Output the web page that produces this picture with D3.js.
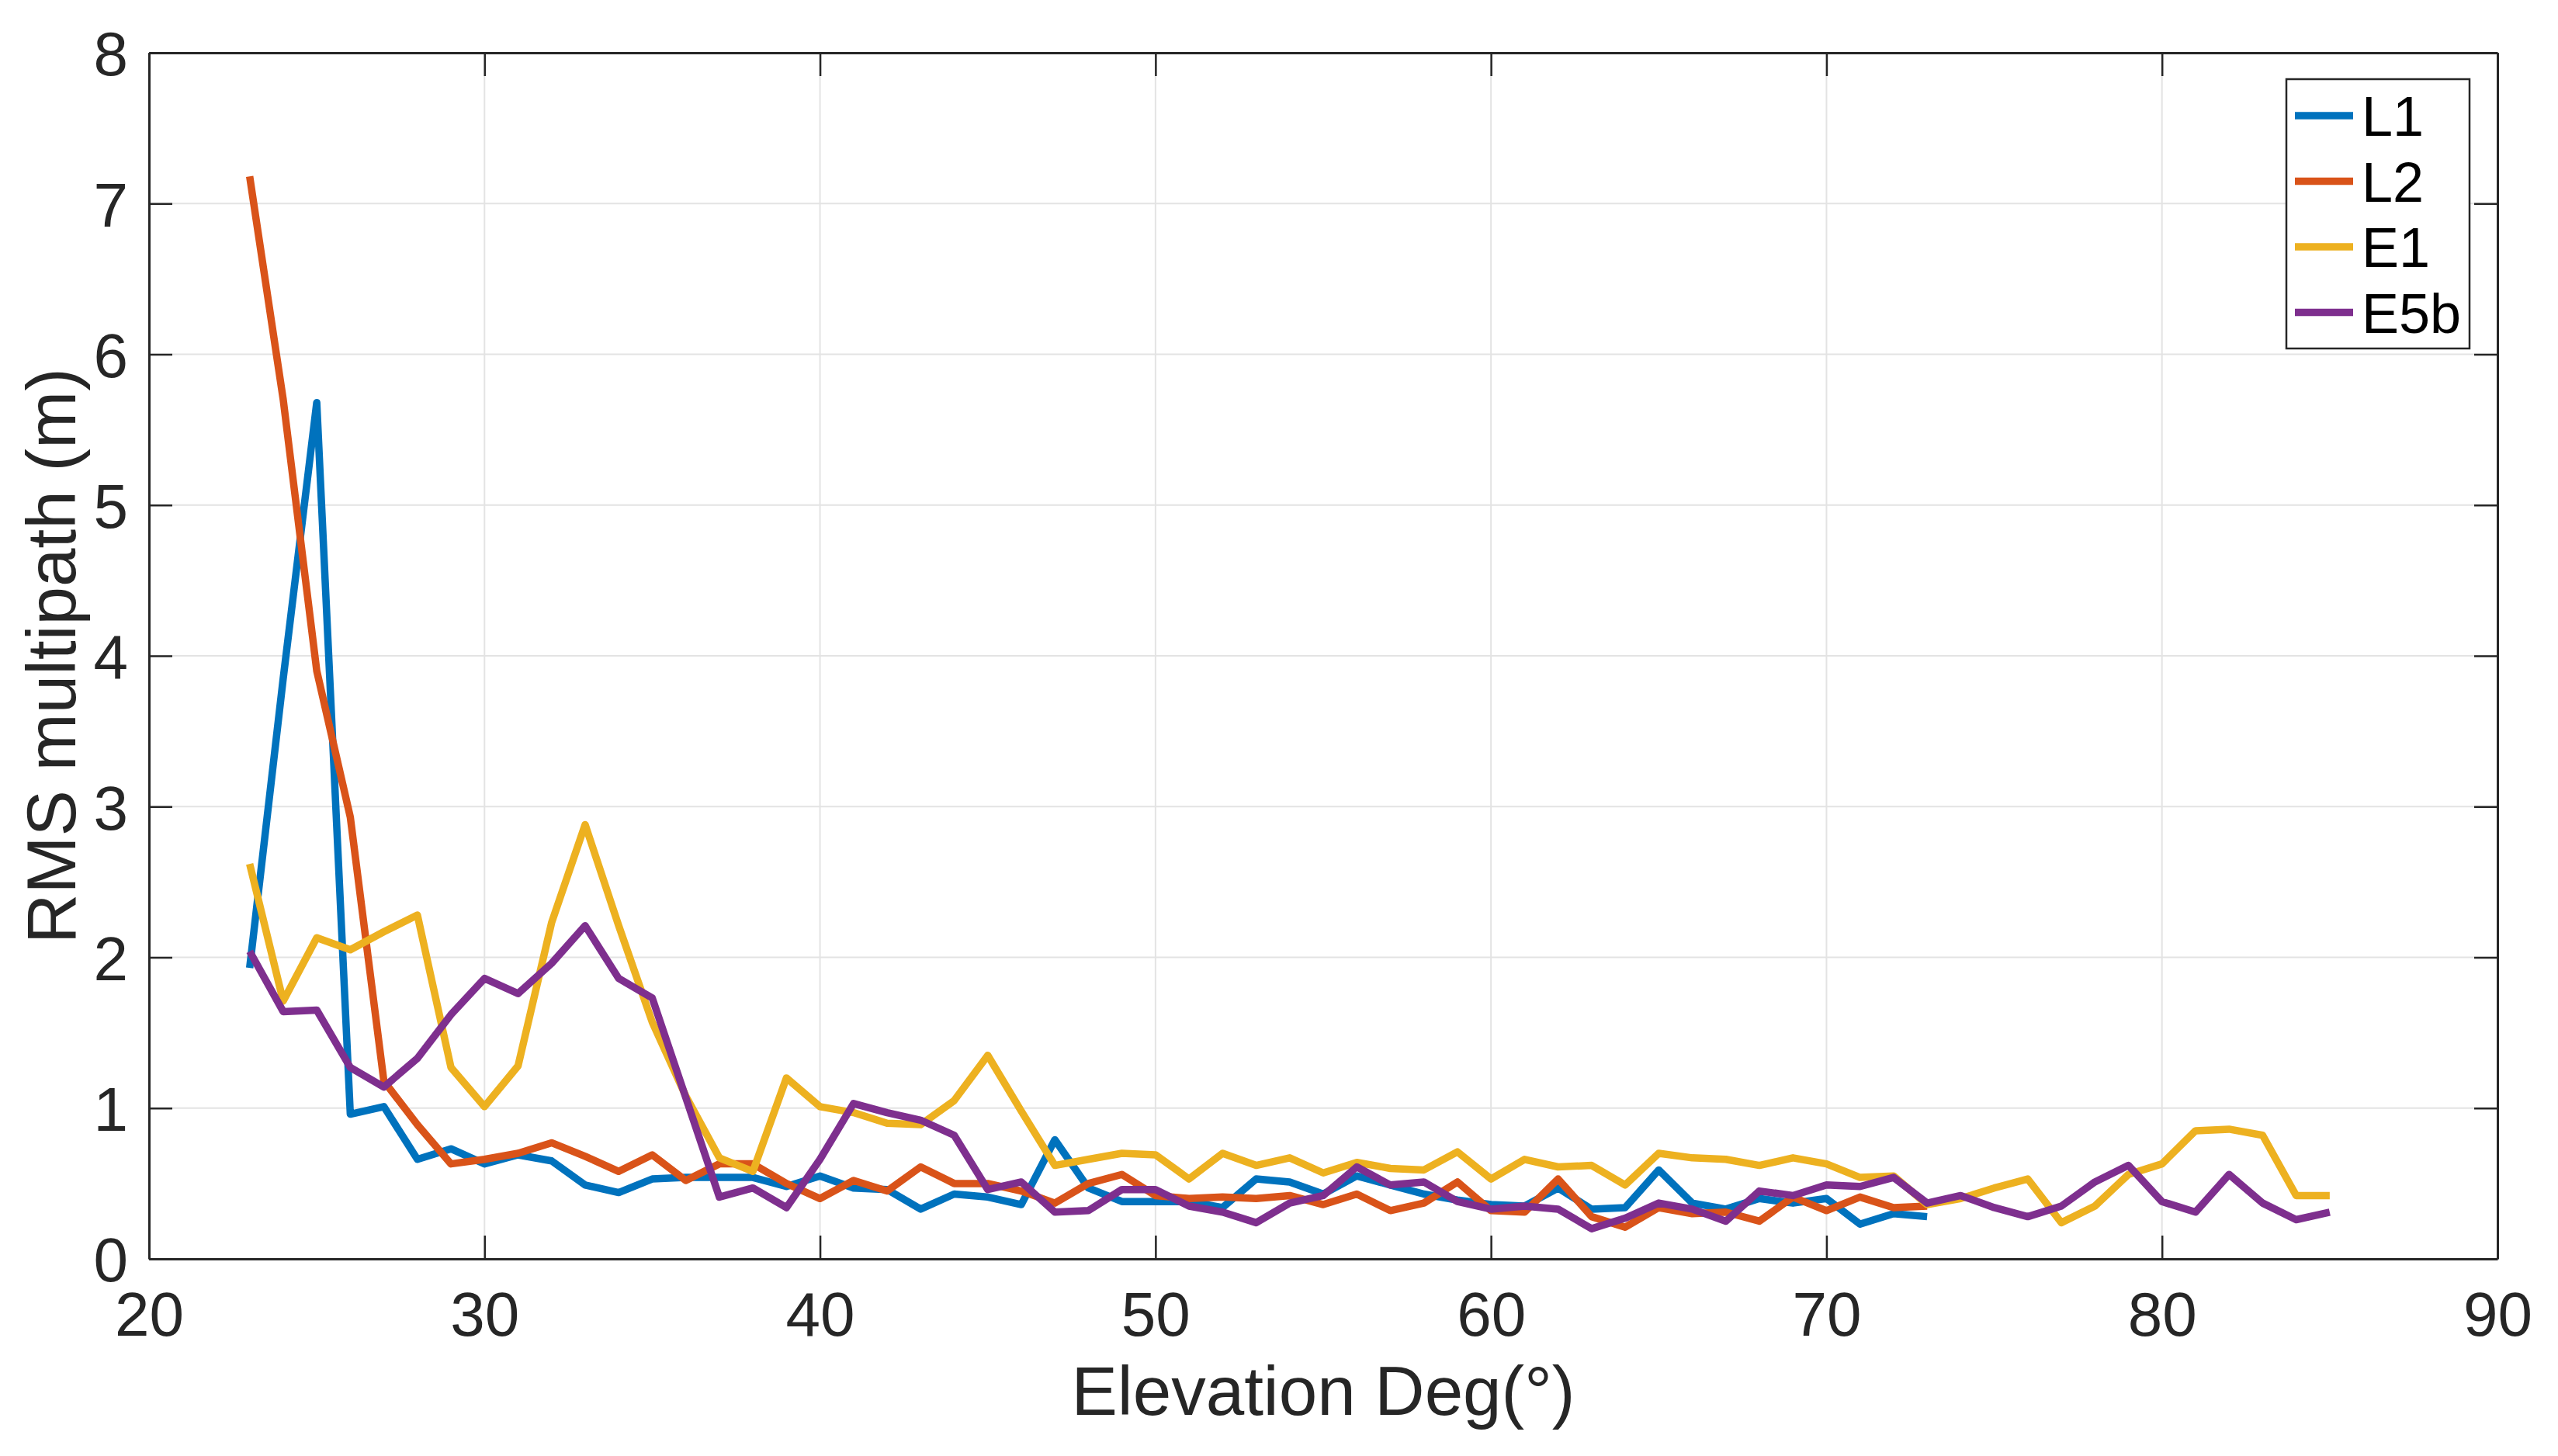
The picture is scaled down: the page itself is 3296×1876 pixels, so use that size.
<!DOCTYPE html>
<html>
<head>
<meta charset="utf-8">
<script src="https://cdn.jsdelivr.net/npm/d3@7"></script>
<style>
  body { margin: 0; background: #fff; }
  text { font-family: "Liberation Sans", Arial, Helvetica, sans-serif; }
</style>
</head>
<body>
<svg id="chart"></svg>
<script>
var screen = {width: 3296, height: 1876}
var margins = {top: 68, right: 78, bottom: 254, left: 192}

// elevation (deg) for each sample
var elevL = [23,24,25,26,27,28,29,30,31,32,33,34,35,36,37,38,39,40,41,42,43,44,45,46,47,48,
             49,50,51,52,53,54,55,56,57,58,59,60,61,62,63,64,65,66,67,68,69,70,71,72,73]
var elevE = [23,24,25,26,27,28,29,30,31,32,33,34,35,36,37,38,39,40,41,42,43,44,45,46,47,48,
             49,50,51,52,53,54,55,56,57,58,59,60,61,62,63,64,65,66,67,68,69,70,71,72,73,
             74,75,76,77,78,79,80,81,82,83,84,85]

var L1 = [1.93,3.85,5.68,0.96,1.01,0.66,0.73,0.63,0.69,0.65,0.49,0.44,0.53,0.54,0.54,0.54,0.48,
          0.55,0.47,0.46,0.33,0.43,0.41,0.36,0.79,0.47,0.38,0.38,0.38,0.34,0.53,0.51,0.43,0.55,
          0.49,0.43,0.39,0.36,0.35,0.47,0.33,0.34,0.59,0.37,0.33,0.40,0.37,0.40,0.23,0.30,0.28]
var L2 = [7.18,5.70,3.90,2.93,1.18,0.89,0.63,0.66,0.70,0.77,0.68,0.58,0.69,0.52,0.63,0.63,0.50,
          0.40,0.52,0.45,0.61,0.50,0.50,0.45,0.37,0.50,0.56,0.42,0.40,0.41,0.40,0.42,0.36,0.43,
          0.32,0.37,0.51,0.32,0.31,0.53,0.28,0.21,0.34,0.30,0.31,0.25,0.41,0.32,0.41,0.34,0.35]
var E1 = [2.62,1.71,2.13,2.05,2.17,2.28,1.27,1.01,1.28,2.23,2.88,2.21,1.57,1.08,0.67,0.58,1.20,
          1.01,0.97,0.90,0.89,1.05,1.35,0.98,0.62,0.66,0.70,0.69,0.53,0.70,0.62,0.67,0.57,0.64,
          0.60,0.59,0.71,0.53,0.66,0.61,0.62,0.49,0.70,0.67,0.66,0.62,0.67,0.63,0.54,0.55,0.36,
          0.40,0.47,0.53,0.24,0.35,0.56,0.63,0.85,0.86,0.82,0.42,0.42]
var E5b = [2.04,1.64,1.65,1.27,1.14,1.33,1.62,1.86,1.76,1.96,2.21,1.86,1.73,1.07,0.41,0.47,0.34,
           0.66,1.03,0.97,0.92,0.82,0.46,0.51,0.31,0.32,0.46,0.46,0.35,0.31,0.24,0.37,0.42,0.61,
           0.49,0.51,0.38,0.33,0.35,0.33,0.20,0.27,0.37,0.33,0.25,0.45,0.42,0.49,0.48,0.54,0.37,
           0.42,0.34,0.28,0.35,0.51,0.62,0.38,0.31,0.56,0.37,0.26,0.31]

var seriesNames = ["L1","L2","E1","E5b"]
var colors = ["#0072BD","#D95319","#EDB120","#7E2F8E"]
var xTicks = [20,30,40,50,60,70,80,90]
var yTicks = [0,1,2,3,4,5,6,7,8]

var series = [
    {name: seriesNames[0], x: elevL, y: L1},
    {name: seriesNames[1], x: elevL, y: L2},
    {name: seriesNames[2], x: elevE, y: E1},
    {name: seriesNames[3], x: elevE, y: E5b}
]

var width = screen.width - margins.left - margins.right
var height = screen.height - margins.top - margins.bottom
var axisColor = "#262626"

var svg = d3.select("#chart")
    .attr("width", screen.width)
    .attr("height", screen.height)

var g = svg.append("g")
    .attr("transform", "translate(" + margins.left + "," + margins.top + ")")

var xScale = d3.scaleLinear().domain([20, 90]).range([0, width])
var yScale = d3.scaleLinear().domain([0, 8]).range([height, 0])

// grid
g.append("g").selectAll("line").data(xTicks).enter().append("line")
    .attr("x1", d => xScale(d)).attr("x2", d => xScale(d))
    .attr("y1", 0).attr("y2", height)
    .attr("stroke", "#e3e3e3").attr("stroke-width", 2)
g.append("g").selectAll("line").data(yTicks).enter().append("line")
    .attr("x1", 0).attr("x2", width)
    .attr("y1", d => yScale(d)).attr("y2", d => yScale(d))
    .attr("stroke", "#e3e3e3").attr("stroke-width", 2)

// lines
var lineGenerator = d3.line()
    .x(d => xScale(d[0]))
    .y(d => yScale(d[1]))

g.append("g").selectAll("path").data(series).enter().append("path")
    .attr("d", s => lineGenerator(s.x.map((v, i) => [v, s.y[i]])))
    .attr("fill", "none")
    .attr("stroke", (s, i) => colors[i])
    .attr("stroke-width", 9.5)
    .attr("stroke-linejoin", "round")

// axes (inward ticks, box on)
var tickLen = 30
var xAxis = d3.axisBottom(xScale).tickValues(xTicks).tickSizeInner(-tickLen).tickSizeOuter(0).tickPadding(42)
var yAxis = d3.axisLeft(yScale).tickValues(yTicks).tickSizeInner(-tickLen).tickSizeOuter(0).tickPadding(27)
var xTop = d3.axisTop(xScale).tickValues(xTicks).tickSizeInner(-tickLen).tickSizeOuter(0).tickFormat("")
var yRight = d3.axisRight(yScale).tickValues(yTicks).tickSizeInner(-tickLen).tickSizeOuter(0).tickFormat("")

var axes = [
    g.append("g").attr("transform", "translate(0," + height + ")").call(xAxis),
    g.append("g").call(yAxis),
    g.append("g").call(xTop),
    g.append("g").attr("transform", "translate(" + width + ",0)").call(yRight)
]
axes.forEach(function(a) {
    a.select(".domain").attr("stroke", axisColor).attr("stroke-width", 3)
    a.selectAll(".tick line").attr("stroke", axisColor).attr("stroke-width", 2.5)
    a.selectAll(".tick text").attr("fill", axisColor).attr("font-size", 80)
        .attr("font-family", "'Liberation Sans', Arial, sans-serif")
})
axes[0].selectAll(".tick text").attr("dy", "0.71em")
axes[1].selectAll(".tick text").attr("dy", "0.36em")

// axis titles
svg.append("text")
    .attr("x", margins.left + width / 2)
    .attr("y", 1823)
    .attr("text-anchor", "middle")
    .attr("font-size", 89)
    .attr("fill", axisColor)
    .text("Elevation Deg(°)")

svg.append("text")
    .attr("transform", "translate(97," + (margins.top + height / 2) + ") rotate(-90)")
    .attr("text-anchor", "middle")
    .attr("font-size", 89)
    .attr("fill", axisColor)
    .text("RMS multipath (m)")

// legend
var legend = svg.append("g").attr("transform", "translate(2946,102)")
legend.append("rect")
    .attr("width", 236).attr("height", 347)
    .attr("fill", "#fff").attr("stroke", axisColor).attr("stroke-width", 2.5)
var items = legend.selectAll("g.item").data(seriesNames).enter().append("g")
    .attr("transform", (d, i) => "translate(0," + (47 + i * 84.5) + ")")
items.append("line")
    .attr("x1", 11).attr("x2", 86).attr("y1", 0).attr("y2", 0)
    .attr("stroke", (d, i) => colors[i]).attr("stroke-width", 9.5)
items.append("text")
    .attr("x", 97).attr("y", 26)
    .attr("font-size", 72).attr("fill", "#000")
    .text(d => d)
</script>
</body>
</html>
